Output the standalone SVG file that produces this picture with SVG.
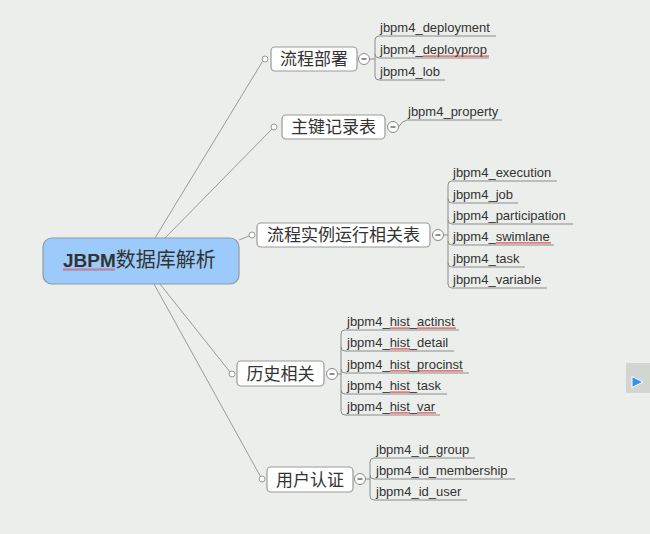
<svg xmlns="http://www.w3.org/2000/svg" width="650" height="534" viewBox="0 0 650 534">
<style>
.bg{fill:#ebeeea}
.conn{fill:none;stroke:#9a9a9a;stroke-width:1}
.ul{fill:none;stroke:#8c8c8c;stroke-width:1}
.node{fill:#ffffff;stroke:#9a9a9a;stroke-width:1.2}
.root{fill:#9ccbfb;stroke:#8d99a4;stroke-width:1.2}
.cn{font-family:"Noto Sans CJK SC","Noto Sans",sans-serif;font-size:17px;fill:#333333;text-anchor:middle}
.ct{font-family:"Liberation Sans",Arial,sans-serif;font-size:13px;fill:#333333}
.dot{fill:#ffffff;stroke:#9a9a9a;stroke-width:1}
.col{fill:#ffffff;stroke:#8a8a8a;stroke-width:1}
.minus{stroke:#444444;stroke-width:1.2}
.sp{fill:url(#wavy)}
</style>
<defs>
<pattern id="wavy" patternUnits="userSpaceOnUse" width="2" height="2">
<path d="M0,1.7 L1,0.3 L2,1.7" fill="none" stroke="#e01818" stroke-width="0.9"/>
</pattern>
</defs>
<rect class="bg" x="0" y="0" width="650" height="534"/>

<g id="connectors">
<path class="conn" d="M155,238 L262.5,61.5"/>
<path class="conn" d="M165,238 L272,129"/>
<path class="conn" d="M239,240 L249,236"/>
<path class="conn" d="M160,284 L230,372"/>
<path class="conn" d="M154,284 L260.5,476.5"/>
<path class="ul" d="M369.5,59 H375 M375,40 V76 M375,40 Q375,36 379,36 H496 M375,54 Q375,58 379,58 H489 M375,76 Q375,80 379,80 H445"/>
<path class="ul" d="M398.5,127 Q402,121 407,120 H502"/>
<path class="ul" d="M443.5,235 H448 M448,185 V284 M448,185 Q448,181 452,181 H557 M448,199 Q448,203 452,203 H518 M448,220 Q448,224 452,224 H573 M448,241 Q448,245 452,245 H554 M448,263 Q448,267 452,267 H525 M448,284 Q448,288 452,288 H547"/>
<path class="ul" d="M337.5,374 H341 M341,334 V411 M341,334 Q341,330 345,330 H459 M341,347 Q341,351 345,351 H454 M341,369 Q341,373 345,373 H469 M341,390 Q341,394 345,394 H447 M341,411 Q341,415 345,415 H440"/>
<path class="ul" d="M365.5,479 H370 M370,462 V496 M370,462 Q370,458 374,458 H475 M370,475 Q370,479 374,479 H515 M370,496 Q370,500 374,500 H467"/>
</g>

<g id="root">
<rect class="root" x="43" y="238" width="196" height="46" rx="9"/>
<text x="63" y="267" font-family="'Liberation Sans','Noto Sans CJK SC',sans-serif" fill="#333333"><tspan font-size="19" font-weight="bold">JBPM</tspan><tspan font-family="'Noto Sans CJK SC',sans-serif" font-size="20">数据库解析</tspan></text>
<rect class="sp" x="63" y="268.5" width="52" height="2"/>
</g>

<g id="node1">
<circle class="dot" cx="265" cy="59" r="3"/>
<rect class="node" x="271" y="47" width="86" height="24" rx="4"/>
<text class="cn" x="314" y="65">流程部署</text>
<circle class="col" cx="364" cy="59" r="5.5"/>
<line class="minus" x1="361.5" y1="59" x2="366.5" y2="59"/>
</g>
<g id="node1-children">
<text class="ct" x="380" y="32">jbpm4_deployment</text>
<text class="ct" x="380" y="54">jbpm4_deployprop</text>
<rect class="sp" x="423" y="55" width="66" height="2"/>
<text class="ct" x="380" y="76">jbpm4_lob</text>
</g>

<g id="node2">
<circle class="dot" cx="274" cy="127" r="3"/>
<rect class="node" x="282" y="115" width="103" height="24" rx="4"/>
<text class="cn" x="333.5" y="133">主键记录表</text>
<circle class="col" cx="393" cy="127" r="5.5"/>
<line class="minus" x1="390.5" y1="127" x2="395.5" y2="127"/>
</g>
<g id="node2-children">
<text class="ct" x="408" y="116">jbpm4_property</text>
</g>

<g id="node3">
<circle class="dot" cx="252" cy="235" r="3"/>
<rect class="node" x="257" y="223" width="173" height="24" rx="4"/>
<text class="cn" x="343.5" y="241">流程实例运行相关表</text>
<circle class="col" cx="438" cy="235" r="5.5"/>
<line class="minus" x1="435.5" y1="235" x2="440.5" y2="235"/>
</g>
<g id="node3-children">
<text class="ct" x="453" y="177">jbpm4_execution</text>
<text class="ct" x="453" y="199">jbpm4_job</text>
<text class="ct" x="453" y="220">jbpm4_participation</text>
<text class="ct" x="453" y="241">jbpm4_swimlane</text>
<rect class="sp" x="496" y="242" width="55" height="2"/>
<text class="ct" x="453" y="263">jbpm4_task</text>
<text class="ct" x="453" y="284">jbpm4_variable</text>
</g>

<g id="node4">
<circle class="dot" cx="232" cy="374" r="3"/>
<rect class="node" x="237" y="361" width="87" height="25" rx="4"/>
<text class="cn" x="280.5" y="380">历史相关</text>
<circle class="col" cx="332" cy="374" r="5.5"/>
<line class="minus" x1="329.5" y1="374" x2="334.5" y2="374"/>
</g>
<g id="node4-children">
<text class="ct" x="347" y="326">jbpm4_hist_actinst</text>
<rect class="sp" x="390" y="327" width="20" height="2"/>
<rect class="sp" x="417" y="327" width="39" height="2"/>
<text class="ct" x="347" y="347">jbpm4_hist_detail</text>
<rect class="sp" x="390" y="348" width="20" height="2"/>
<text class="ct" x="347" y="369">jbpm4_hist_procinst</text>
<rect class="sp" x="390" y="370" width="20" height="2"/>
<rect class="sp" x="417" y="370" width="46" height="2"/>
<text class="ct" x="347" y="390">jbpm4_hist_task</text>
<rect class="sp" x="390" y="391" width="20" height="2"/>
<text class="ct" x="347" y="411">jbpm4_hist_var</text>
<rect class="sp" x="390" y="412" width="20" height="2"/>
<rect class="sp" x="417" y="412" width="19" height="2"/>
</g>

<g id="node5">
<circle class="dot" cx="262" cy="479" r="3"/>
<rect class="node" x="267" y="467" width="86" height="25" rx="4"/>
<text class="cn" x="310" y="485.5">用户认证</text>
<circle class="col" cx="360" cy="479" r="5.5"/>
<line class="minus" x1="357.5" y1="479" x2="362.5" y2="479"/>
</g>
<g id="node5-children">
<text class="ct" x="376" y="454">jbpm4_id_group</text>
<text class="ct" x="376" y="475">jbpm4_id_membership</text>
<text class="ct" x="376" y="496">jbpm4_id_user</text>
</g>

<g id="side-button">
<rect x="626" y="363" width="24" height="30" fill="#d2d5d2"/>
<path d="M632,376.5 L643,382 L632,387.5 Z" fill="#3a8ff0" stroke="#ffffff" stroke-width="1"/>
</g>
</svg>
